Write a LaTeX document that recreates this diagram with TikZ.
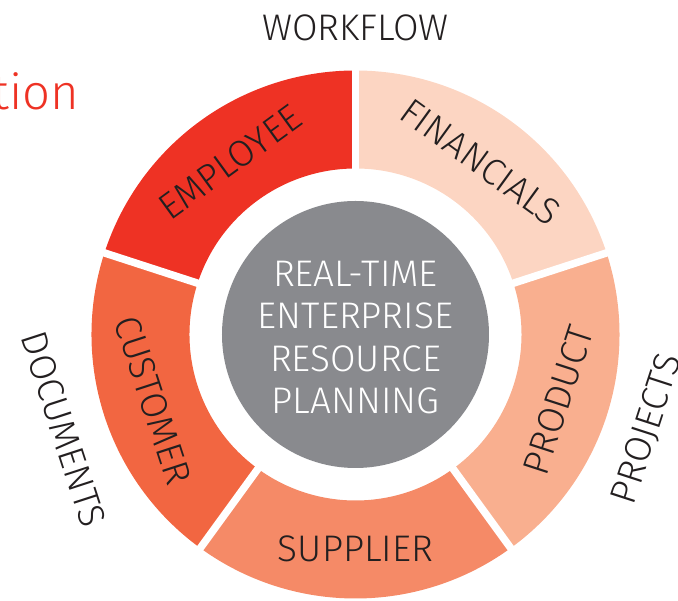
\documentclass[tikz,border=0pt]{standalone}
\usepackage{fontspec}
\IfFontExistsTF{Fira Sans Light}{\setmainfont{Fira Sans Light}}{\setmainfont{Fira Sans}}
\usepackage{tikz}

\definecolor{ink}{RGB}{35,31,32}
\definecolor{employee}{RGB}{238,50,36}
\definecolor{financials}{RGB}{252,213,194}
\definecolor{product}{RGB}{249,175,143}
\definecolor{supplier}{RGB}{245,138,103}
\definecolor{customer}{RGB}{242,102,65}
\definecolor{hub}{RGB}{137,138,142}

\tikzset{
	lbl/.style={inner sep=0pt, text=ink, font=\fontsize{37}{42.3}\selectfont},
	gap/.style={white, line width=7.5pt},
}

\begin{document}
\begin{tikzpicture}[x=1pt, y=1pt]
	\useasboundingbox (-355.5,-266.5) rectangle (322.5,334.5);

	\fill[employee] (90:166) arc[start angle=90, end angle=162, radius=166] -- (162:264) arc[start angle=162, end angle=90, radius=264] -- cycle;
	\fill[customer] (162:166) arc[start angle=162, end angle=234, radius=166] -- (234:264) arc[start angle=234, end angle=162, radius=264] -- cycle;
	\fill[supplier] (234:166) arc[start angle=234, end angle=306, radius=166] -- (306:264) arc[start angle=306, end angle=234, radius=264] -- cycle;
	\fill[product] (-54:166) arc[start angle=-54, end angle=18, radius=166] -- (18:264) arc[start angle=18, end angle=-54, radius=264] -- cycle;
	\fill[financials] (18:166) arc[start angle=18, end angle=90, radius=166] -- (90:264) arc[start angle=90, end angle=18, radius=264] -- cycle;

	\draw[gap] (0,0) -- (90:280);
	\draw[gap] (0,0) -- (162:280);
	\draw[gap] (0,0) -- (234:280);
	\draw[gap] (0,0) -- (306:280);
	\draw[gap] (0,0) -- (18:280);

	\fill[hub] (0,0) circle[radius=133.5];
	\node[lbl, text=white, align=center] (0) at (0,-3) {REAL-TIME\\ENTERPRISE\\RESOURCE\\PLANNING};

	\node[lbl, rotate=36] (1) at (126:213) {EMPLOYEE};
	\node[lbl, rotate=-36] (2) at (54:213) {FINANCIALS};
	\node[lbl, rotate=72] (3) at (-18:213) {PRODUCT};
	\node[lbl] (4) at (270:214) {SUPPLIER};
	\node[lbl, rotate=-72] (5) at (198:213) {CUSTOMER};

	\node[lbl] (6) at (90:307) {WORKFLOW};
	\node[lbl, rotate=-72] (7) at (198:307) {DOCUMENTS};
	\node[lbl, rotate=72] (8) at (-18:307) {PROJECTS};

	\node[inner sep=0pt, anchor=base east, text=employee, font=\fontsize{49}{56}\selectfont] (9) at (-276,224.5) {tion};
\end{tikzpicture}
\end{document}
